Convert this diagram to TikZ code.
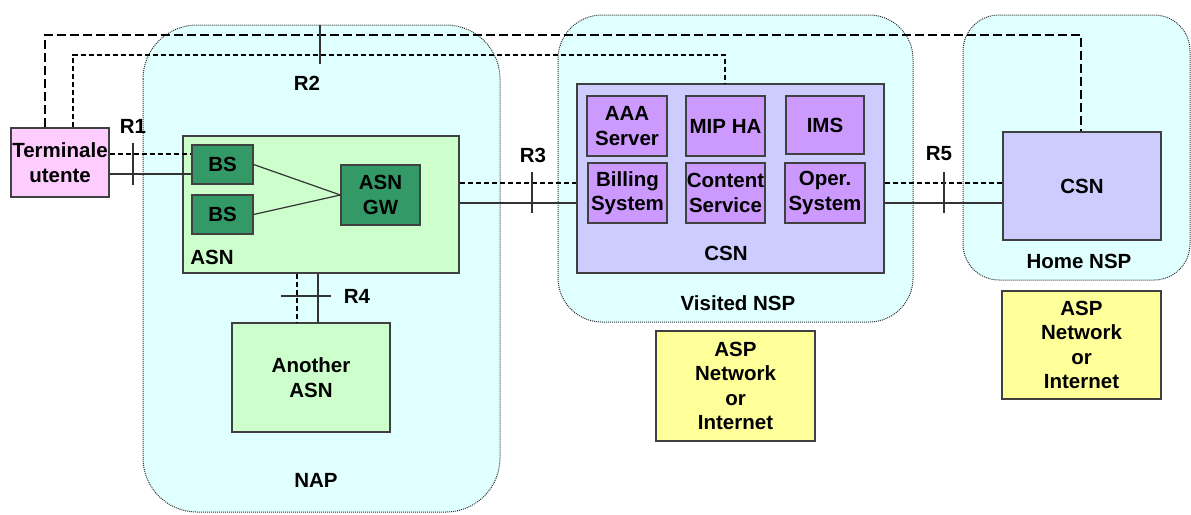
\documentclass[tikz,border=0pt]{standalone}
\usepackage{fontspec}
\setmainfont{Liberation Sans}
\begin{document}
\begin{tikzpicture}[x=1pt,y=-1pt,
  every node/.style={font=\fontsize{20.5}{24.5}\selectfont\bfseries, text=black},
  region/.style={draw=black!80, densely dotted, line width=1pt, fill=regcol},
  bx/.style={draw=black!75, line width=1.2pt, inner sep=0pt, align=center, anchor=center},
  lbl/.style={inner sep=0pt, anchor=center},
  ldash/.style={draw=black, line width=1.3pt, dash pattern=on 9pt off 4pt},
  sdash/.style={draw=black, line width=1.3pt, dash pattern=on 5pt off 3pt},
  sline/.style={draw=black!80, line width=1.2pt},
  tick/.style={draw=black!80, line width=1.2pt}]
\definecolor{regcol}{RGB}{224,255,255}
\definecolor{pinkc}{RGB}{255,204,255}
\definecolor{lgreen}{RGB}{204,255,204}
\definecolor{dgreen}{RGB}{51,153,102}
\definecolor{lav}{RGB}{204,204,255}
\definecolor{purp}{RGB}{204,153,255}
\definecolor{yel}{RGB}{255,255,153}
\useasboundingbox (0,0) rectangle (1191,514);
\fill[white] (0,0) rectangle (1191,514);
% regions
\draw[region, rounded corners=54pt] (143,25) rectangle (500,512);
\draw[region, rounded corners=44pt] (558,15) rectangle (913,322);
\draw[region, rounded corners=36pt] (963,15) rectangle (1190,280);
% level coordinates
\coordinate (yA) at (0,154);
\coordinate (yB) at (0,174);
\coordinate (y3a) at (0,183);
\coordinate (y3b) at (0,203);
\coordinate (yT1) at (0,35);
\coordinate (yT2) at (0,55);
\coordinate (xT1) at (45,0);
\coordinate (xT2) at (73,0);
\coordinate (xH) at (1081,0);
\coordinate (xV) at (725,0);
\coordinate (x4a) at (297,0);
\coordinate (x4b) at (318,0);
% boxes
\node[bx, fill=pinkc, minimum width=98pt, minimum height=69pt] (term) at (60,162.5) {Terminale\\utente};
\node[bx, fill=lgreen, minimum width=276pt, minimum height=137pt] (asn) at (321,204.5) {};
\node[bx, fill=dgreen, minimum width=61pt, minimum height=39pt] (bs1) at (222.5,164.5) {BS};
\node[bx, fill=dgreen, minimum width=61pt, minimum height=39pt] (bs2) at (222.5,214.5) {BS};
\node[bx, fill=dgreen, minimum width=79pt, minimum height=60pt] (gw) at (380.5,195) {ASN\\GW};
\node[bx, fill=lgreen, minimum width=158pt, minimum height=109pt] (another) at (311,377.5) {Another\\ASN};
\node[bx, fill=lav, minimum width=307pt, minimum height=189pt] (csnv) at (730.5,178.5) {};
\node[bx, fill=purp, minimum width=80pt, minimum height=60pt] (aaa) at (627,126) {AAA\\Server};
\node[bx, fill=purp, minimum width=79pt, minimum height=60pt] (mip) at (725.5,126) {MIP HA};
\node[bx, fill=purp, minimum width=78pt, minimum height=58pt] (ims) at (825,125) {IMS};
\node[bx, fill=purp, minimum width=79pt, minimum height=60pt] (bill) at (627.5,193) {Billing\\System};
\node[bx, fill=purp, minimum width=79pt, minimum height=60pt] (cont) at (725.5,193) {Content\\Service};
\node[bx, fill=purp, minimum width=80pt, minimum height=60pt] (oper) at (825,193) {Oper.\\System};
\node[bx, fill=lav, minimum width=158pt, minimum height=108pt] (csnh) at (1082,186) {CSN};
\node[bx, fill=yel, minimum width=159pt, minimum height=110pt] (aspv) at (735.5,386) {ASP\\Network\\or\\Internet};
\node[bx, fill=yel, minimum width=159pt, minimum height=108pt] (asph) at (1081.5,345) {ASP\\Network\\or\\Internet};
% labels
\node[lbl] (lasn) at (212,257) {ASN};
\node[lbl] (lcsn) at (726,253) {CSN};
\node[lbl] (lnap) at (316,480) {NAP};
\node[lbl] (lvis) at (738,303) {Visited NSP};
\node[lbl] (lhome) at (1079,261) {Home NSP};
\node[lbl] (r1) at (133,126) {R1};
\node[lbl] (r2) at (307,83) {R2};
\node[lbl] (r3) at (533,155) {R3};
\node[lbl] (r4) at (357,296) {R4};
\node[lbl] (r5) at (939,154) {R5};
% connectors
\draw[ldash] (term.north -| xT1) -- (xT1 |- yT1) -- (xH |- yT1) -- (csnh.north -| xH);
\draw[sdash] (term.north -| xT2) -- (xT2 |- yT2) -- (xV |- yT2) -- (csnv.north -| xV);
\draw[tick] (320,25) -- (320,64);
\draw[sdash] (term.east |- yA) -- (bs1.west |- yA);
\draw[sline] (term.east |- yB) -- (bs1.west |- yB);
\draw[tick] (133,143) -- (133,185);
\draw[sline] (bs1.east) -- (gw.west);
\draw[sline] (bs2.east) -- (gw.west);
\draw[sdash] (asn.east |- y3a) -- (csnv.west |- y3a);
\draw[sline] (asn.east |- y3b) -- (csnv.west |- y3b);
\draw[tick] (532,172) -- (532,213);
\draw[sdash] (csnv.east |- y3a) -- (csnh.west |- y3a);
\draw[sline] (csnv.east |- y3b) -- (csnh.west |- y3b);
\draw[tick] (944,172) -- (944,213);
\draw[sdash] (asn.south -| x4a) -- (another.north -| x4a);
\draw[sline] (asn.south -| x4b) -- (another.north -| x4b);
\draw[tick] (281,296) -- (331,296);
\end{tikzpicture}
\end{document}
